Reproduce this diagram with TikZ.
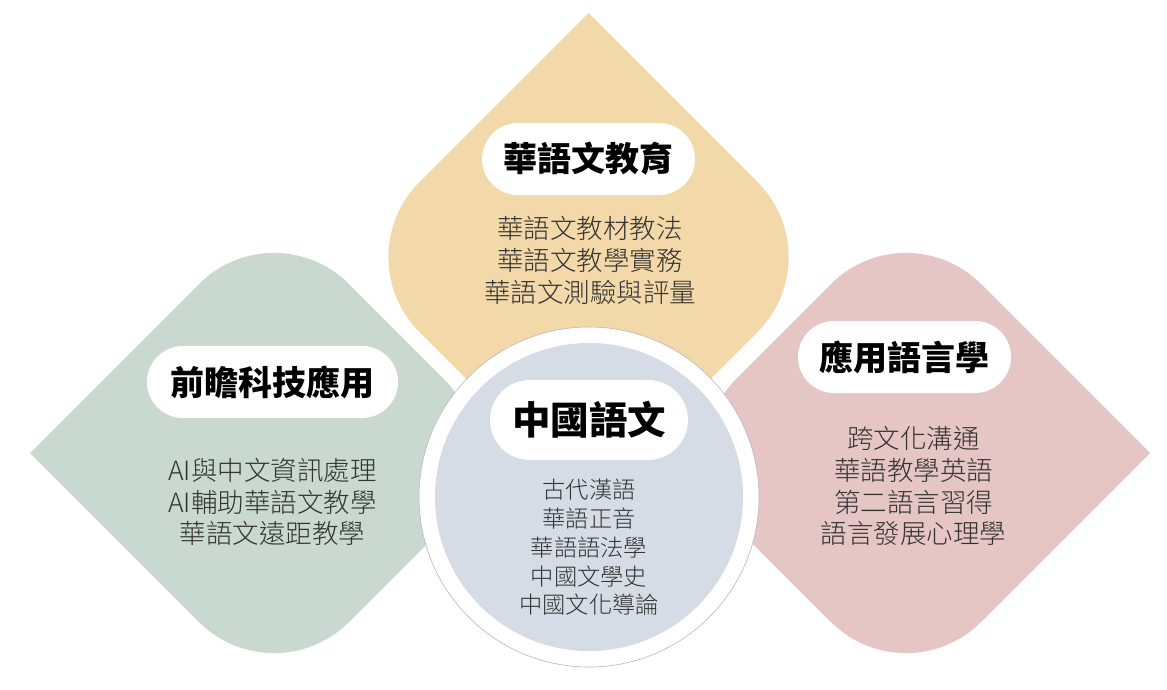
\documentclass[tikz,border=0pt]{standalone}
\usepackage{fontspec}
\newfontfamily\cjk{Noto Sans CJK TC}
\newfontfamily\cjklight{Noto Sans CJK TC Light}
\definecolor{ycol}{HTML}{F3D8A9}
\definecolor{gcol}{HTML}{C9D9CF}
\definecolor{pcol}{HTML}{E5C6C5}
\definecolor{bcol}{HTML}{D6DCE5}
\definecolor{txt}{HTML}{333333}
\tikzset{
  pill/.style={fill=white, rounded corners=36pt, inner sep=0pt, minimum height=72pt, text=black,
    font=\cjk\bfseries\fontsize{34}{40}\selectfont},
  body/.style={align=center, text=txt, inner sep=0pt, font=\cjklight\fontsize{26.5}{31.8}\selectfont},
  hubbody/.style={align=center, text=txt, inner sep=0pt, font=\cjklight\fontsize{23.3}{28.8}\selectfont}
}
\begin{document}
\begin{tikzpicture}[x=1pt,y=-1pt]
\useasboundingbox (0,0) rectangle (1167,689);
\fill[white] (0,0) rectangle (1167,689);
% yellow teardrop (tip up)
\fill[ycol] [rounded corners=106pt] (588.5,13) -- (344.5,257) -- (588.5,501) -- (832.5,257) -- cycle
  [sharp corners] (588.5,13) -- (513.5,88) -- (663.5,88) -- cycle;
% green teardrop (tip left)
\fill[gcol] [rounded corners=106pt] (30,453) -- (274,697) -- (518,453) -- (274,209) -- cycle
  [sharp corners] (30,453) -- (105,528) -- (105,378) -- cycle;
% pink teardrop (tip right)
\fill[pcol] [rounded corners=106pt] (1150,453) -- (906,209) -- (662,453) -- (906,697) -- cycle
  [sharp corners] (1150,453) -- (1075,378) -- (1075,528) -- cycle;
% hub circle
\node[circle, fill=white, draw=black!28, line width=0.6pt, minimum size=340pt, inner sep=0pt] (hub) at (589,497) {};
\node[circle, fill=bcol, minimum size=308pt, inner sep=0pt] (hubin) at (589,497) {};
% titles
\node[pill, minimum width=213pt] (t1) at (588.5,159) {華語文教育};
\node[pill, minimum width=251pt] (t2) at (272.5,382) {前瞻科技應用};
\node[pill, minimum width=213pt] (t3) at (904.5,357) {應用語言學};
\node[pill, minimum width=198pt, minimum height=80pt, rounded corners=40pt,
  font=\cjk\bfseries\fontsize{38.5}{44}\selectfont] (t4) at (589,420) {中國語文};
% bodies
\node[body] (b1) at (590,260.5) {華語文教材教法\\華語文教學實務\\華語文測驗與評量};
\node[body] (b2) at (272.5,502) {AI與中文資訊處理\\AI輔助華語文教學\\華語文遠距教學};
\node[body] (b3) at (913.5,486) {跨文化溝通\\華語教學英語\\第二語言習得\\語言發展心理學};
\node[hubbody] (b4) at (589,547.5) {古代漢語\\華語正音\\華語語法學\\中國文學史\\中國文化導論};
\end{tikzpicture}
\end{document}
